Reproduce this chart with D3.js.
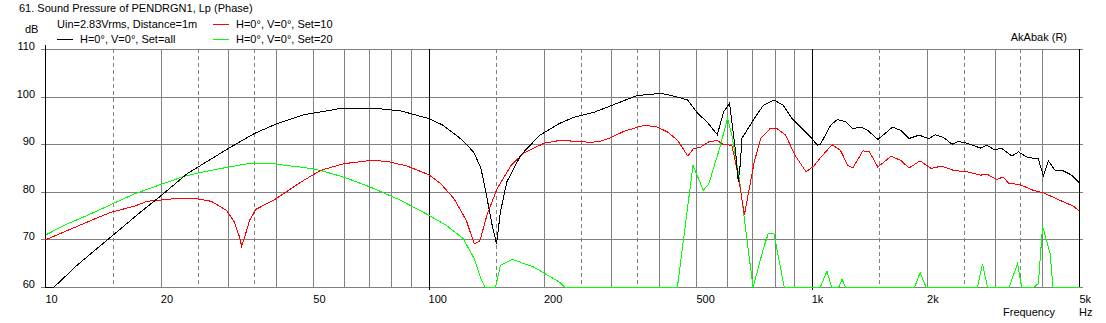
<!DOCTYPE html>
<html>
<head>
<meta charset="utf-8">
<script src="https://cdn.jsdelivr.net/npm/d3@7"></script>
<style>
  body { margin: 0; background: #fff; }
  svg { display: block; }
  text { font-family: "Liberation Sans", Arial, sans-serif; font-size: 11px; fill: #000; }
</style>
</head>
<body>
<svg width="1106" height="323"></svg>
<script>
// frequency (Hz), level (dB)
const setAll = [
    [10, 59.6], [10.5, 60], [12.1, 64.7], [14.8, 70.6], [17.8, 76.0], [20.1, 79.4], [23.5, 84.0],
    [25, 85.3], [30, 89.2], [35.2, 92.4], [40.4, 94.5], [47.3, 96.3], [58.8, 97.6], [73.5, 97.6],
    [84.6, 97.1], [100, 95.5], [109, 94.1], [121, 91.3], [131, 88.5], [137, 85.0], [141, 80.1],
    [146.5, 73.1], [150.4, 69.2], [154, 75.9], [160, 82.2], [174, 87.8], [195, 92.0], [220, 94.5],
    [240, 95.8], [270, 96.8], [304, 98.4], [349, 100.3], [404, 100.8], [437, 100.2], [474, 99.4],
    [504, 96.6], [534, 94.7], [567, 92.1], [589, 96.9], [610, 98.7], [619, 94.8], [633, 88.5],
    [643, 82.2], [652, 86.4], [657, 91.3], [708, 95.5], [748, 98.3], [797, 99.4], [842, 98.3],
    [888, 95.5], [936, 93.7], [993, 91.6], [1035, 89.9], [1052, 90.0], [1121, 94.1], [1167, 95.3],
    [1229, 94.8], [1280, 93.4], [1345, 93.7], [1400, 93.0], [1488, 91.1], [1626, 93.7], [1708, 93.0],
    [1795, 91.3], [1905, 92.0], [2023, 91.3], [2104, 92.1], [2211, 91.5], [2323, 90.1], [2416, 90.7],
    [2541, 90.3], [2756, 89.3], [2868, 89.9], [2986, 89.0], [3137, 89.2], [3330, 87.6], [3465, 88.5],
    [3643, 87.4], [3904, 87.0], [4025, 83.4], [4148, 86.6], [4317, 84.6], [4538, 84.5], [4770, 83.6],
    [5000, 82.0]
];

const set10 = [
    [10, 70], [11.2, 71.7], [12.9, 73.8], [14.8, 75.8], [17.1, 77.1], [18.4, 78.1], [21.3, 78.6],
    [25, 78.6], [27.1, 78.1], [29.7, 76.2], [31.1, 73.8], [32.1, 70.6], [32.5, 68.7], [33.1, 70.6],
    [34.1, 74.1], [35.4, 76.4], [39.7, 78.5], [43.8, 80.8], [46.3, 82.1], [52.2, 84.6], [60, 86.0],
    [70.5, 86.7], [78, 86.5], [88, 85.5], [100, 83.7], [107.6, 81.8], [116.4, 78.7], [125.4, 74.1],
    [131.5, 69.2], [136, 69.7], [142, 75.2], [151, 80.8], [164, 85.6], [177, 88.2], [200, 90.3],
    [220, 90.9], [244, 90.7], [265, 90.5], [280, 90.7], [298, 91.4], [323, 92.8], [366, 94.1],
    [395, 93.7], [420, 92.7], [447, 90.9], [475, 87.6], [490, 89.1], [513, 89.5], [539, 90.6],
    [567, 90.9], [589, 90.0], [619, 89.9], [645, 82.9], [667, 75.2], [682, 79.4], [708, 86.4],
    [736, 91.3], [781, 93.5], [808, 93.5], [855, 92.0], [904, 87.8], [967, 84.3], [1015, 85.6],
    [1052, 87.2], [1130, 90.0], [1189, 88.8], [1241, 85.7], [1280, 85.1], [1360, 88.7], [1415, 88.5],
    [1488, 85.3], [1611, 87.6], [1708, 86.7], [1795, 85.1], [1918, 86.6], [2050, 85.0], [2180, 85.5],
    [2346, 84.6], [2541, 84.3], [2756, 83.6], [2868, 83.8], [3040, 82.7], [3155, 83.2], [3280, 81.8],
    [3465, 81.7], [3570, 81.3], [3788, 80.4], [4025, 79.9], [4538, 78.0], [4818, 77.1], [5000, 76.0]
];

const set20 = [
    [10, 71.0], [11.2, 73.1], [12.9, 75.2], [14.8, 77.4], [17.1, 79.7], [20.1, 81.7], [23.1, 83.4],
    [25.5, 84.2], [30, 85.3], [32.1, 85.7], [33.7, 86.0], [39.6, 86.0], [42, 85.7], [47.4, 85.2],
    [52.2, 84.6], [60, 83.2], [70.5, 81.1], [84.6, 78.3], [100, 75.2], [111, 73.1], [123, 70.3],
    [131.5, 66.1], [136.8, 61.9], [140.5, 60], [149.5, 60], [154, 64.7], [165.5, 65.9], [188, 64.3],
    [220, 61.1], [227, 60], [446, 60], [490, 85.7], [521, 80.4], [539, 81.8], [576, 89.5],
    [603, 95.5], [619, 92.0], [647, 82.9], [677, 70.3], [703, 60], [748, 68.2], [770, 71.3],
    [797, 71.3], [848, 60], [1052, 60], [1096, 63.4], [1128, 60], [1175, 60], [1200, 61.7],
    [1227, 60], [1855, 60], [1918, 63.1], [1990, 60], [2708, 60], [2791, 65.0], [2877, 60],
    [3274, 60], [3445, 65.0], [3535, 60], [3790, 60], [3905, 60.8], [4005, 72.9], [4190, 67.1],
    [4265, 60], [5000, 60]
];

const series = [
    { name: "H=0°, V=0°, Set=all", color: "#000000", values: setAll },
    { name: "H=0°, V=0°, Set=10", color: "#ff0000", values: set10 },
    { name: "H=0°, V=0°, Set=20", color: "#00ff00", values: set20 }
];

const dbTicks = [60, 70, 80, 90, 100, 110];
const freqLabels = [[10, "10"], [20, "20"], [50, "50"], [100, "100"], [200, "200"], [500, "500"],
                    [1000, "1k"], [2000, "2k"], [5000, "5k"]];

const svg = d3.select("svg");

const x = d3.scaleLog().domain([10, 5000]).range([45.5, 1079.5]);
const y = d3.scaleLinear().domain([60, 110]).range([287.5, 49.5]);

// vertical grid: 2..9 solid, 1.5/2.5/3.5 dashed, decades black
const solidF = [], dashedF = [], decadeF = [100, 1000];
[10, 100, 1000].forEach(d => {
    for (let m = 2; m <= 9; m++) if (d * m < 5000) solidF.push(d * m);
    [1.5, 2.5, 3.5].forEach(m => { if (d * m < 5000) dashedF.push(d * m); });
});

const grid = svg.append("g").attr("shape-rendering", "crispEdges");

grid.selectAll("line.h")
    .data(dbTicks)
    .enter().append("line")
    .attr("x1", 41).attr("x2", 1083)
    .attr("y1", d => y(d)).attr("y2", d => y(d))
    .attr("stroke", "#808080");

grid.selectAll("line.v")
    .data(solidF)
    .enter().append("line")
    .attr("x1", d => Math.round(x(d)) + 0.5).attr("x2", d => Math.round(x(d)) + 0.5)
    .attr("y1", 49).attr("y2", 288)
    .attr("stroke", "#808080");

grid.selectAll("line.d")
    .data(dashedF)
    .enter().append("line")
    .attr("x1", d => Math.round(x(d)) + 0.5).attr("x2", d => Math.round(x(d)) + 0.5)
    .attr("y1", 49).attr("y2", 288)
    .attr("stroke", "#808080")
    .attr("stroke-dasharray", "4,3");

grid.selectAll("line.k")
    .data(decadeF)
    .enter().append("line")
    .attr("x1", d => Math.round(x(d)) + 0.5).attr("x2", d => Math.round(x(d)) + 0.5)
    .attr("y1", 49).attr("y2", 290)
    .attr("stroke", "#000");

// left and right frame
grid.append("line").attr("x1", 45.5).attr("x2", 45.5).attr("y1", 45).attr("y2", 288).attr("stroke", "#000");
grid.append("line").attr("x1", 1079.5).attr("x2", 1079.5).attr("y1", 49).attr("y2", 288).attr("stroke", "#000");

// curves, clamped to the plot range like the original
const line = d3.line()
    .x(d => x(d[0]))
    .y(d => y(Math.max(60, Math.min(110, d[1]))));

svg.append("g")
    .selectAll("path")
    .data(series.slice().reverse())
    .enter().append("path")
    .attr("d", d => line(d.values))
    .attr("fill", "none")
    .attr("stroke", d => d.color)
    .attr("stroke-width", 1)
    .attr("shape-rendering", "crispEdges");

// axis labels
svg.selectAll("text.yl")
    .data(dbTicks)
    .enter().append("text")
    .attr("x", 35).attr("y", d => y(d) + 0.5)
    .attr("text-anchor", "end")
    .text(d => d);

svg.selectAll("text.xl")
    .data(freqLabels)
    .enter().append("text")
    .attr("x", d => x(d[0])).attr("y", 303)
    .text(d => d[1]);

svg.append("text").attr("x", 25).attr("y", 33).text("dB");
svg.append("text").attr("x", 1003).attr("y", 316).text("Frequency");
svg.append("text").attr("x", 1079).attr("y", 316).text("Hz");
svg.append("text").attr("x", 19).attr("y", 12).text("61. Sound Pressure of PENDRGN1, Lp (Phase)");
svg.append("text").attr("x", 1067).attr("y", 41).attr("text-anchor", "end").text("AkAbak (R)");
svg.append("text").attr("x", 57).attr("y", 28).text("Uin=2.83Vrms, Distance=1m");

// legend
const legendPos = [[57, 39.5], [213, 24.5], [213, 39.5]];
const leg = svg.append("g")
    .selectAll("g")
    .data(series)
    .enter().append("g")
    .attr("transform", (d, i) => `translate(${legendPos[i][0]},${legendPos[i][1]})`);
leg.append("line")
    .attr("x1", 0).attr("x2", 16)
    .attr("stroke", d => d.color)
    .attr("shape-rendering", "crispEdges");
leg.append("text")
    .attr("x", 23).attr("y", 3)
    .text(d => d.name);
</script>
</body>
</html>
